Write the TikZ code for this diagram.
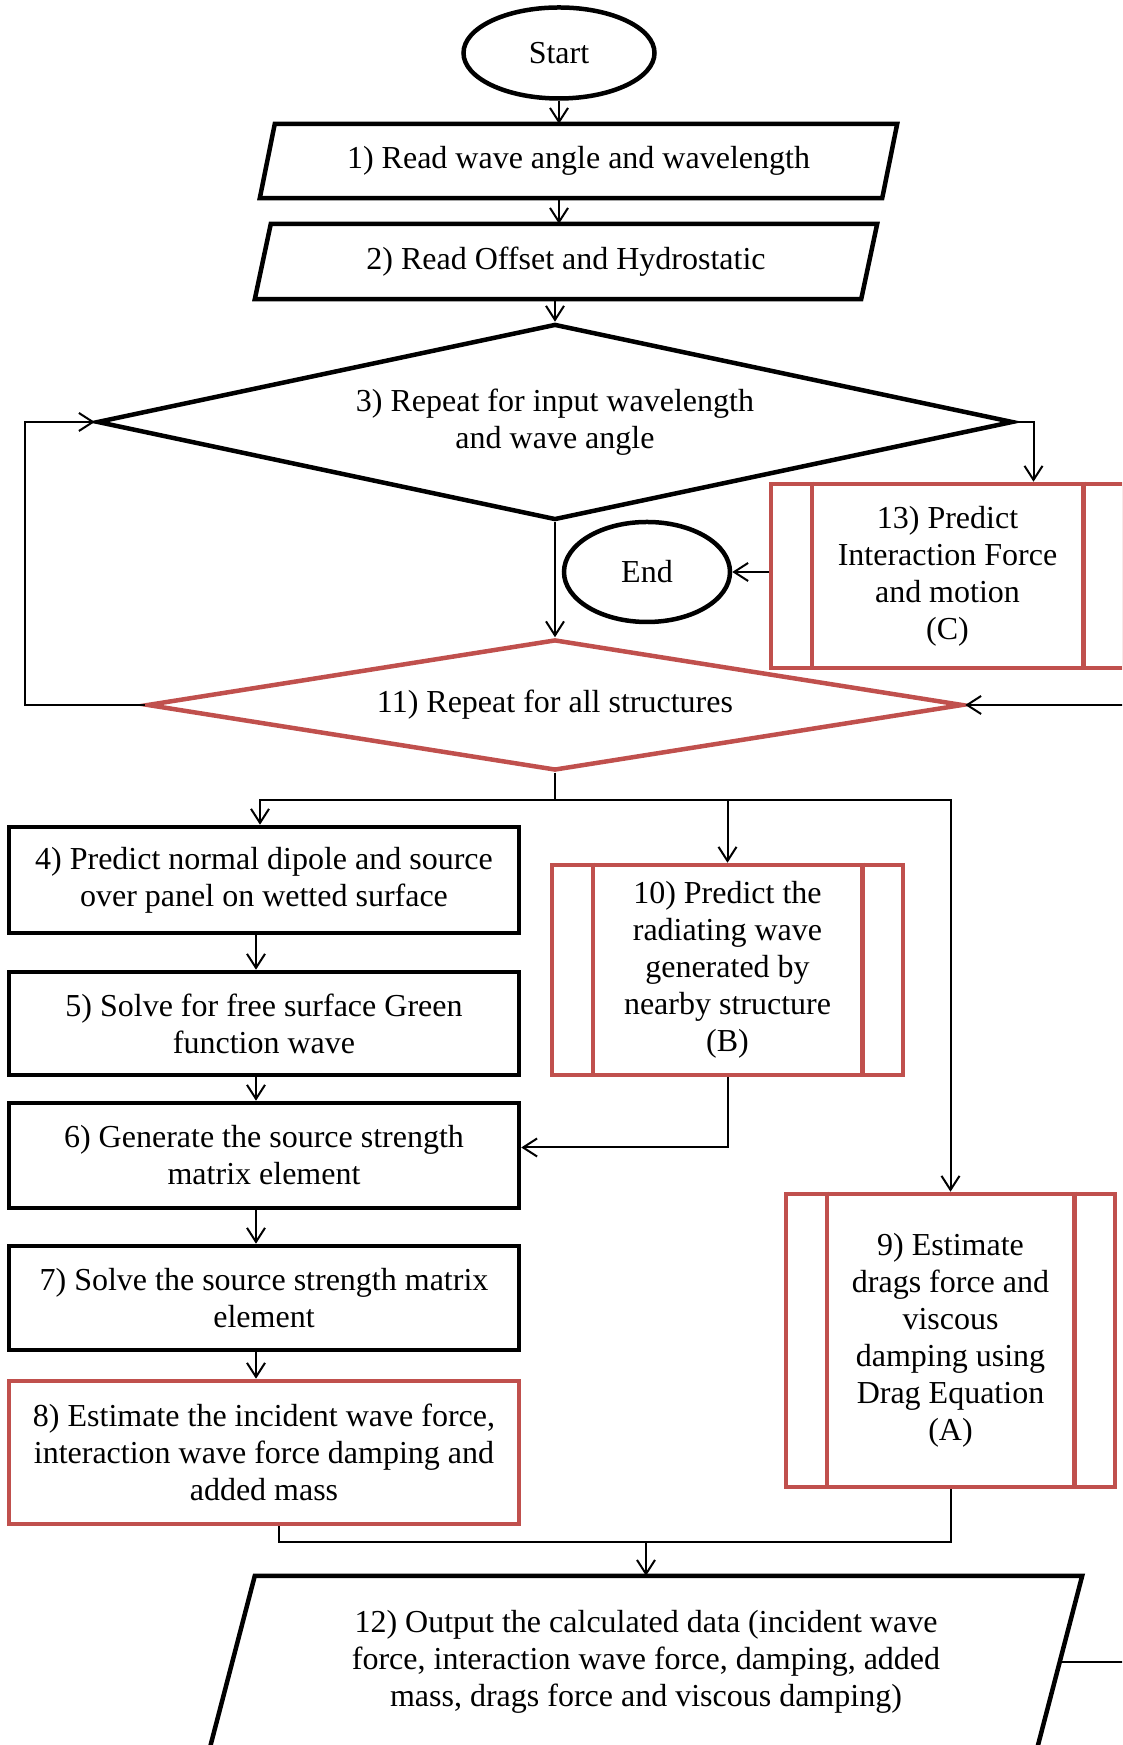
\documentclass[tikz,border=0pt]{standalone}
\usepackage{fontspec}
\setmainfont{Liberation Serif}
\usetikzlibrary{shapes.geometric,arrows.meta}
\definecolor{boxred}{RGB}{192,80,77}
\tikzset{
  box/.style={draw, line width=4.5pt, rectangle, inner sep=0pt, align=center},
  redbox/.style={box, draw=boxred},
  io/.style={rectangle, inner sep=0pt, align=center},
  frame/.style={line width=4.5pt, line join=miter},
  choice/.style={draw, line width=4.5pt, diamond, inner sep=0pt, align=center},
  term/.style={draw, line width=4.5pt, ellipse, inner sep=0pt},
  wire/.style={line width=2pt},
  link/.style={wire, -{Straight Barb[length=14pt,width=18pt]}},
}

\begin{document}
\begin{tikzpicture}[x=1pt, y=1pt, font=\fontsize{32}{37}\selectfont]
  \clip (0,0) rectangle (1122,1745);
  % Top of the chart
  \node[term, minimum width=191, minimum height=91] (start) at (559,1692) {Start};
  \node[io, minimum width=622, minimum height=74] (rd1) at (578.5,1584) {1) Read wave angle and wavelength};
  \node[io, minimum width=606, minimum height=75] (rd2) at (566,1483.5) {2) Read Offset and Hydrostatic};
  \node[choice, aspect=4.67, minimum width=916, minimum height=196] (rep3) at (555,1323)
        {3) Repeat for input wavelength\\and wave angle};
  \node[redbox, minimum width=353, minimum height=184] (c13) at (947.5,1169)
        {13) Predict\\Interaction Force\\and motion\\(C)};
  \node[term, minimum width=166, minimum height=100] (stop) at (647,1173) {End};
  \node[choice, draw=boxred, aspect=6.2, minimum width=816, minimum height=131] (rep11) at (555,1040)
        {11) Repeat for all structures};
  % Left column
  \node[box, minimum width=510, minimum height=106] (b4) at (264,865)
        {4) Predict normal dipole and source\\over panel on wetted surface};
  \node[box, minimum width=510, minimum height=103] (b5) at (264,721.5)
        {5) Solve for free surface Green\\function wave};
  \node[box, minimum width=510, minimum height=105] (b6) at (264,589.5)
        {6) Generate the source strength\\matrix element};
  \node[box, minimum width=510, minimum height=104] (b7) at (264,447)
        {7) Solve the source strength matrix\\element};
  \node[redbox, minimum width=510, minimum height=143] (b8) at (264,292.5)
        {8) Estimate the incident wave force,\\interaction wave force damping and\\added mass};
  % Right column
  \node[redbox, minimum width=351, minimum height=210] (b10) at (727.5,775)
        {10) Predict the\\radiating wave\\generated by\\nearby structure\\(B)};
  \node[redbox, minimum width=329, minimum height=293] (b9) at (950.5,404.5)
        {9) Estimate\\drags force and\\viscous\\damping using\\Drag Equation\\(A)};
  \node[io, minimum width=827, minimum height=172] (out12) at (646,83)
        {12) Output the calculated data (incident wave\\force, interaction wave force, damping, added\\mass, drags force and viscous damping)};
  % Slanted input/output boxes
  \foreach \n/\s in {rd1/7.5, rd2/8, out12/22.5}
    \draw[frame] ([xshift=\s pt]\n.north west) -- ([xshift=\s pt]\n.north east)
      -- ([xshift=-\s pt]\n.south east) -- ([xshift=-\s pt]\n.south west) -- cycle;
  % Side bars of the process boxes
  \foreach \n in {c13,b10,b9}
    \draw[boxred, line width=4.5pt] ([xshift=43pt]\n.north west) -- ([xshift=43pt]\n.south west)
      ([xshift=-43pt]\n.north east) -- ([xshift=-43pt]\n.south east);
  % Connectors
  \draw[link] (start.south) -- (start.south |- rd1.north);
  \draw[link] (start.south |- rd1.south) -- (start.south |- rd2.north);
  \draw[link] (rep3.north |- rd2.south) -- (rep3.north);
  \draw[link] (rep3.south) -- (rep11.north);
  \draw[link] (rep11.west) -- (25,1040) |- (rep3.west);
  \draw[link] (rep3.east) -| ([xshift=86pt]c13.north);
  \draw[link] (c13.west |- stop) -- (stop.east);
  \coordinate (fork) at (555,945);
  \draw[wire] (rep11.south) -- (fork);
  \draw[link] (fork) -| ([xshift=-4pt]b4.north);
  \draw[link] (fork) -| (b10.north);
  \draw[link] (fork) -| (b9.north);
  \foreach \a/\b in {b4/b5,b5/b6,b6/b7,b7/b8}
    \draw[link] ([xshift=-8pt]\a.south) -- ([xshift=-8pt]\b.north);
  \draw[link] (b10.south) |- ([yshift=8pt]b6.east);
  \coordinate (join) at (646,203);
  \draw[wire] ([xshift=15pt]b8.south) |- (b9.south |- join) -- (b9.south);
  \draw[link] (join) -- (join |- out12.north);
  \draw[link] (out12.east) -- ++(100pt,0) |- (rep11.east);
\end{tikzpicture}
\end{document}
